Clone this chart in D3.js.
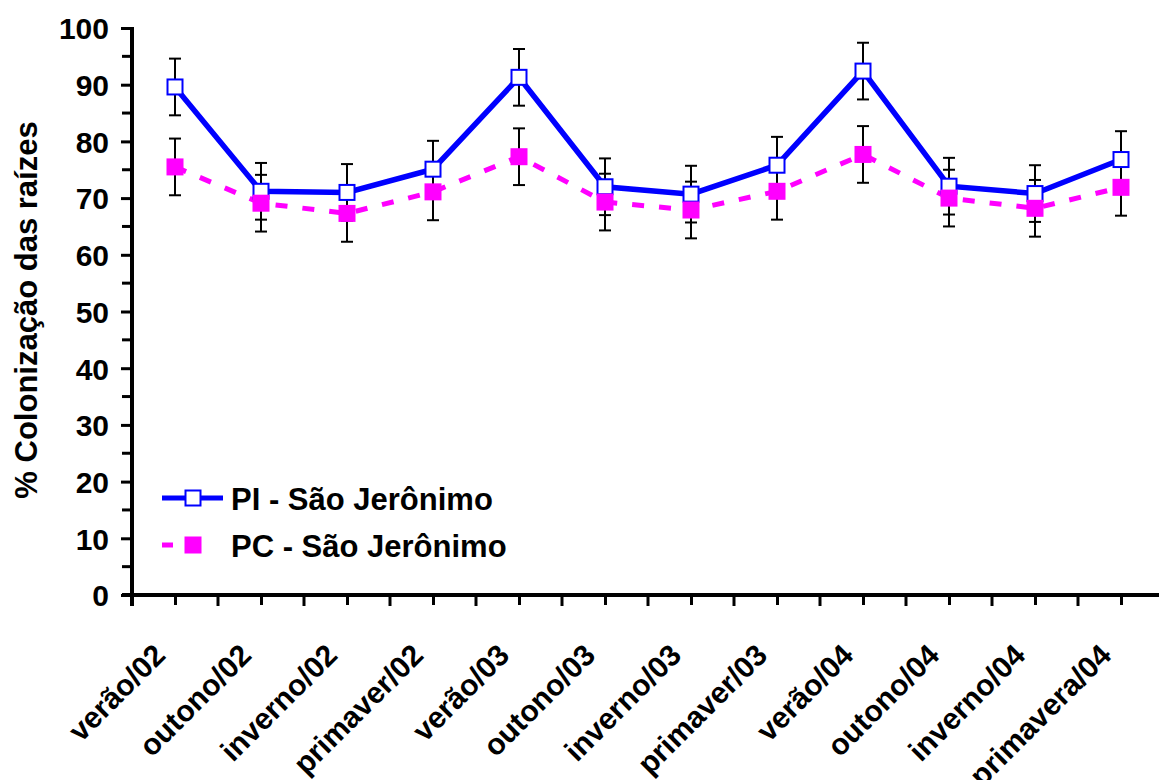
<!DOCTYPE html>
<html>
<head>
<meta charset="utf-8">
<script src="https://cdn.jsdelivr.net/npm/d3@7"></script>
<style>
  body { margin: 0; background: #fff; }
  svg text { font-family: "Liberation Sans", Arial, Helvetica, sans-serif; font-weight: bold; fill: #000; }
</style>
</head>
<body>
<svg id="chart" width="1159" height="780"></svg>
<script>
// Colonização das raízes por estação
const seasons = ['verão/02', 'outono/02', 'inverno/02', 'primaver/02', 'verão/03', 'outono/03',
                 'inverno/03', 'primaver/03', 'verão/04', 'outono/04', 'inverno/04', 'primavera/04'];
const piValues = [89.6, 71.2, 71.0, 75.1, 91.3, 72.0, 70.7, 75.8, 92.4, 72.1, 70.8, 76.8];
const piErrors = [5, 5, 5, 5, 5, 5, 5, 5, 5, 5, 5, 5];
const pcValues = [75.5, 69.1, 67.3, 71.1, 77.3, 69.3, 67.9, 71.2, 77.7, 70.0, 68.2, 71.9];
const pcErrors = [5, 5, 5, 5, 5, 5, 5, 5, 5, 5, 5, 5];
const yTicks = [0, 10, 20, 30, 40, 50, 60, 70, 80, 90, 100];
const yMinorTicks = [5, 15, 25, 35, 45, 55, 65, 75, 85, 95];
const seriesNames = ['PI - São Jerônimo', 'PC - São Jerônimo'];

const svg = d3.select('#chart');

const plotLeft = 132, plotRight = 1164, plotTop = 28, plotBottom = 595;

const x = d3.scalePoint()
    .domain(seasons)
    .range([plotLeft, plotRight])
    .padding(0.5);
const step = x.step();

const y = d3.scaleLinear()
    .domain([0, 100])
    .range([plotBottom, plotTop]);

// Y axis
const yAxis = svg.append('g')
    .attr('transform', `translate(${plotLeft},0)`)
    .call(d3.axisLeft(y).tickValues(yTicks).tickSize(11).tickPadding(12).tickFormat(d3.format('d')));
yAxis.select('.domain').remove();
yAxis.selectAll('.tick line').attr('stroke', '#000').attr('stroke-width', 3);
yAxis.selectAll('.tick text')
    .attr('font-size', '30px')
    .attr('font-family', '"Liberation Sans", Arial, sans-serif')
    .attr('font-weight', 'bold')
    .attr('dy', '0.36em');

svg.append('g')
    .attr('transform', `translate(${plotLeft},0)`)
    .selectAll('line')
    .data(yMinorTicks)
    .join('line')
    .attr('x1', -10)
    .attr('x2', 0)
    .attr('y1', d => y(d))
    .attr('y2', d => y(d))
    .attr('stroke', '#000')
    .attr('stroke-width', 3);

svg.append('line')
    .attr('x1', plotLeft)
    .attr('x2', plotLeft)
    .attr('y1', y(100) - 1)
    .attr('y2', plotBottom + 11)
    .attr('stroke', '#000')
    .attr('stroke-width', 4);

// X axis
const xAxis = svg.append('g')
    .attr('transform', `translate(0,${plotBottom})`)
    .call(d3.axisBottom(x).tickSize(10).tickFormat(''));
xAxis.select('.domain').remove();
xAxis.selectAll('.tick line').attr('stroke', '#000').attr('stroke-width', 3);

// boundary ticks between categories
svg.append('g')
    .selectAll('line')
    .data(seasons.slice(1))
    .join('line')
    .attr('x1', d => x(d) - step / 2)
    .attr('x2', d => x(d) - step / 2)
    .attr('y1', plotBottom)
    .attr('y2', plotBottom + 11)
    .attr('stroke', '#000')
    .attr('stroke-width', 3);

svg.append('line')
    .attr('x1', plotLeft - 10)
    .attr('x2', 1159)
    .attr('y1', plotBottom)
    .attr('y2', plotBottom)
    .attr('stroke', '#000')
    .attr('stroke-width', 4);

// x labels rotated
svg.append('g')
    .selectAll('text')
    .data(seasons)
    .join('text')
    .attr('transform', d => `translate(${x(d) - 8},${plotBottom + 62}) rotate(-45)`)
    .attr('text-anchor', 'end')
    .attr('font-size', '30px')
    .text(d => d);

// Y title
svg.append('text')
    .attr('transform', `translate(37,310) rotate(-90)`)
    .attr('text-anchor', 'middle')
    .attr('font-size', '31px')
    .text('% Colonização das raízes');

// Error bars
function drawErrors(values, errors) {
    const g = svg.append('g');
    seasons.forEach((s, i) => {
        const cx = x(s);
        const y1 = y(values[i] + errors[i]);
        const y2 = y(values[i] - errors[i]);
        g.append('line').attr('x1', cx).attr('x2', cx).attr('y1', y1).attr('y2', y2)
            .attr('stroke', '#000').attr('stroke-width', 2);
        [y1, y2].forEach(yy => {
            g.append('line').attr('x1', cx - 6).attr('x2', cx + 6).attr('y1', yy).attr('y2', yy)
                .attr('stroke', '#000').attr('stroke-width', 2);
        });
    });
}
drawErrors(piValues, piErrors);
drawErrors(pcValues, pcErrors);

const line = d3.line()
    .x((d, i) => x(seasons[i]))
    .y(d => y(d));

svg.append('path')
    .datum(pcValues)
    .attr('d', line)
    .attr('fill', 'none')
    .attr('stroke', '#ff00ff')
    .attr('stroke-width', 5)
    .attr('stroke-dasharray', '12,15');

svg.append('path')
    .datum(piValues)
    .attr('d', line)
    .attr('fill', 'none')
    .attr('stroke', '#0000ff')
    .attr('stroke-width', 5.5);

// Markers
svg.append('g')
    .selectAll('rect')
    .data(piValues)
    .join('rect')
    .attr('x', (d, i) => x(seasons[i]) - 7.5)
    .attr('y', d => y(d) - 7.5)
    .attr('width', 15)
    .attr('height', 15)
    .attr('fill', '#fff')
    .attr('stroke', '#0000ff')
    .attr('stroke-width', 2);

svg.append('g')
    .selectAll('rect')
    .data(pcValues)
    .join('rect')
    .attr('x', (d, i) => x(seasons[i]) - 8.5)
    .attr('y', d => y(d) - 8.5)
    .attr('width', 17)
    .attr('height', 17)
    .attr('fill', '#ff00ff');

// Legend
const legend = svg.append('g');
legend.append('line')
    .attr('x1', 162).attr('x2', 223).attr('y1', 498).attr('y2', 498)
    .attr('stroke', '#0000ff').attr('stroke-width', 5);
legend.append('rect')
    .attr('x', 185.5).attr('y', 490.5).attr('width', 15).attr('height', 15)
    .attr('fill', '#fff').attr('stroke', '#0000ff').attr('stroke-width', 2);
legend.append('text')
    .attr('x', 231).attr('y', 510)
    .attr('font-size', '31px')
    .text(seriesNames[0]);

legend.append('line')
    .attr('x1', 162).attr('x2', 173).attr('y1', 545).attr('y2', 545)
    .attr('stroke', '#ff00ff').attr('stroke-width', 5);
legend.append('rect')
    .attr('x', 184.5).attr('y', 536.5).attr('width', 17).attr('height', 17)
    .attr('fill', '#ff00ff');
legend.append('text')
    .attr('x', 231).attr('y', 557)
    .attr('font-size', '31px')
    .text(seriesNames[1]);
</script>
</body>
</html>
